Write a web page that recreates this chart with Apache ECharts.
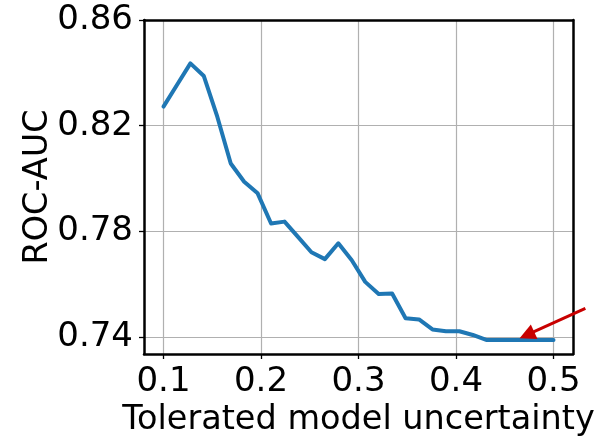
<!DOCTYPE html>
<html>
<head>
<meta charset="utf-8">
<script src="https://cdn.jsdelivr.net/npm/echarts@6/dist/echarts.min.js"></script>
<style>
html,body{margin:0;padding:0;background:#fff;}
#c{width:602px;height:436px;}
</style>
</head>
<body>
<div id="c"></div>
<script>
// tolerated model uncertainty (x)
var uncertainty = [0.1, 0.11379, 0.12759, 0.14138, 0.15517, 0.16897, 0.18276, 0.19655, 0.21034, 0.22414,
  0.23793, 0.25172, 0.26552, 0.27931, 0.29310, 0.30690, 0.32069, 0.33448, 0.34828, 0.36207,
  0.37586, 0.38966, 0.40345, 0.41724, 0.43103, 0.44483, 0.45862, 0.47241, 0.48621, 0.5];
// ROC-AUC (y)
var rocAuc = [0.8272, 0.8354, 0.8436, 0.8388, 0.8234, 0.8057, 0.7988, 0.7944, 0.7830, 0.7837,
  0.7779, 0.7721, 0.7695, 0.7755, 0.7691, 0.7609, 0.7563, 0.7565, 0.7471, 0.7467,
  0.7429, 0.7422, 0.7422, 0.7408, 0.7389, 0.7389, 0.7389, 0.7389, 0.7389, 0.7389];
var xTicks = [0.1, 0.2, 0.3, 0.4, 0.5];
var yTicks = [0.74, 0.78, 0.82, 0.86];
var xRange = [0.08, 0.52];
var yRange = [0.7336, 0.86];
// annotation arrow: tail and arrow-head centre (data coordinates)
var arrowTail = [0.5327, 0.7509];
var arrowHead = [0.4727, 0.7408];
var xName = 'Tolerated model uncertainty';
var yName = 'ROC-AUC';

var FONT = 'DejaVu Sans';
var points = uncertainty.map(function (x, i) { return [x, rocAuc[i]]; });

var chart = echarts.init(document.getElementById('c'), null, {renderer: 'canvas'});
var spine = {color: '#000', width: 2.5};
chart.setOption({
  animation: false,
  backgroundColor: '#fff',
  textStyle: {fontFamily: FONT},
  grid: {left: 144, right: 29, top: 20, bottom: 82, containLabel: false, outerBoundsMode: 'none'},
  xAxis: [{
    type: 'value', min: xRange[0], max: xRange[1], position: 'bottom',
    axisLine: {show: true, lineStyle: spine},
    axisTick: {show: true, customValues: xTicks, length: 5, lineStyle: {color: '#000', width: 1.3}},
    axisLabel: {customValues: xTicks, fontSize: 34, color: '#000', margin: 11, fontFamily: FONT,
      formatter: function (v) { return v.toFixed(1); }},
    splitLine: {show: true, lineStyle: {color: '#b0b0b0', width: 1.2}},
    name: xName, nameLocation: 'middle', nameGap: 49, nameMoveOverlap: false,
    nameTextStyle: {fontSize: 33.5, color: '#000', fontFamily: FONT}
  }, {
    type: 'value', min: xRange[0], max: xRange[1], position: 'top', z: 5,
    axisLine: {show: true, onZero: false, lineStyle: spine},
    axisTick: {show: false}, axisLabel: {show: false}, splitLine: {show: false}
  }],
  yAxis: [{
    type: 'value', min: yRange[0], max: yRange[1], position: 'left',
    axisLine: {show: true, onZero: false, lineStyle: spine},
    axisTick: {show: true, customValues: yTicks, length: 5, lineStyle: {color: '#000', width: 1.3}},
    axisLabel: {customValues: yTicks, fontSize: 34, color: '#000', margin: 11, fontFamily: FONT,
      padding: [6, 0, 0, 0],
      formatter: function (v) { return v.toFixed(2); }},
    splitLine: {show: true, lineStyle: {color: '#b0b0b0', width: 1.2}},
    name: yName, nameLocation: 'middle', nameGap: 89, nameRotate: 90, nameMoveOverlap: false,
    nameTextStyle: {fontSize: 33.5, color: '#000', fontFamily: FONT}
  }, {
    type: 'value', min: yRange[0], max: yRange[1], position: 'right', z: 5,
    axisLine: {show: true, onZero: false, lineStyle: spine},
    axisTick: {show: false}, axisLabel: {show: false}, splitLine: {show: false}
  }],
  series: [{
    type: 'line',
    xAxisIndex: 0, yAxisIndex: 0,
    data: points,
    showSymbol: false,
    symbol: 'none',
    lineStyle: {color: '#1f77b4', width: 4, cap: 'round', join: 'round'},
    z: 3
  }, {
    type: 'lines',
    coordinateSystem: 'cartesian2d',
    xAxisIndex: 0, yAxisIndex: 0,
    clip: false,
    silent: true,
    symbol: ['none', 'triangle'],
    symbolSize: 16,
    lineStyle: {color: '#c80000', width: 3, opacity: 1},
    itemStyle: {color: '#c80000'},
    data: [{coords: [arrowTail, arrowHead]}],
    z: 6
  }]
});
</script>
</body>
</html>
